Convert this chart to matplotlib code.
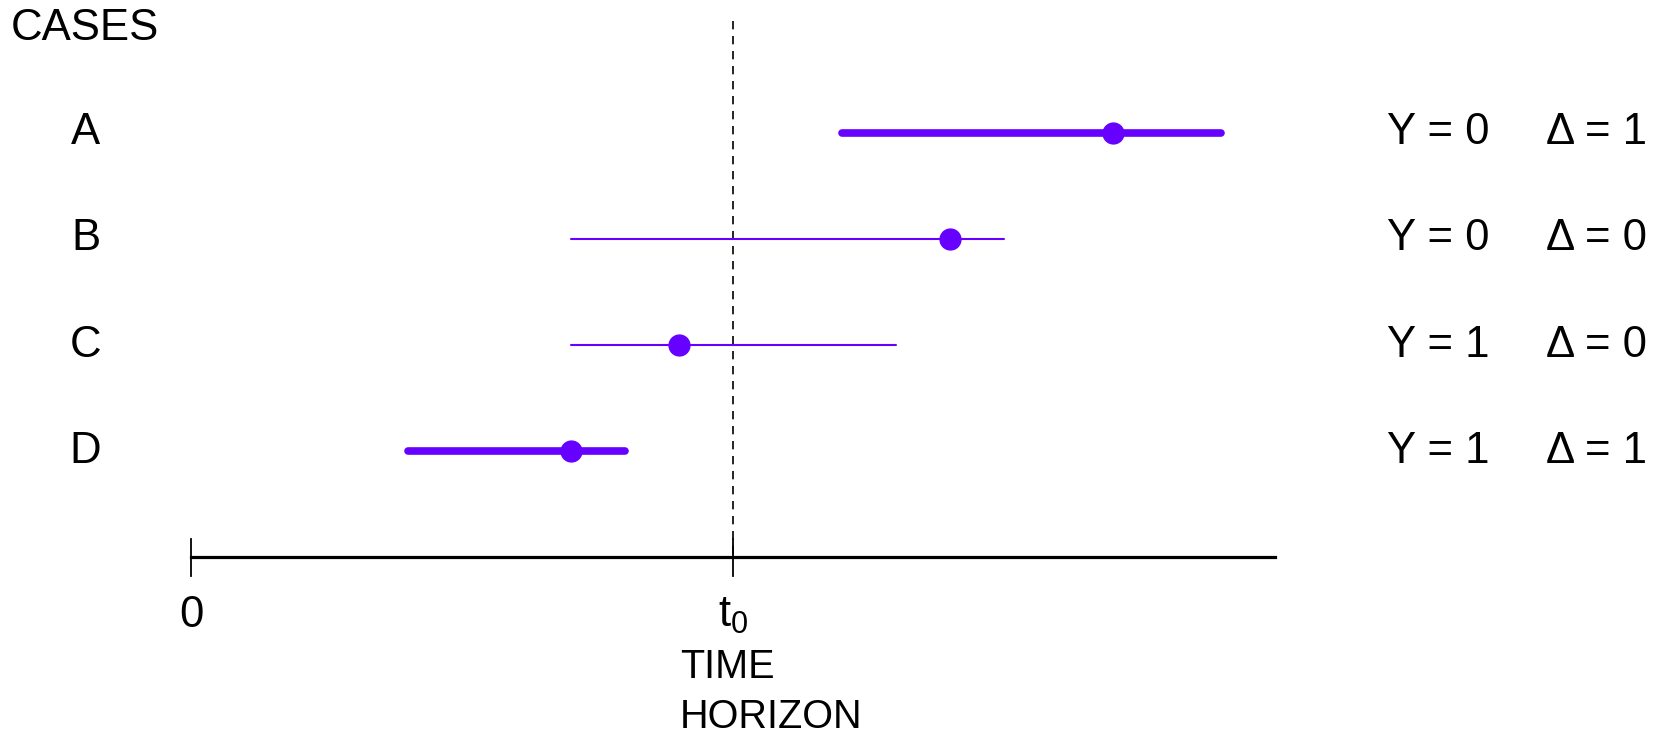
import matplotlib
matplotlib.use("Agg")
import matplotlib.pyplot as plt

plt.rcParams['font.family'] = ['Liberation Sans', 'DejaVu Sans']
plt.rcParams['mathtext.fontset'] = 'custom'
plt.rcParams['mathtext.rm'] = 'Liberation Sans'
plt.rcParams['mathtext.it'] = 'Liberation Sans'

# cases, follow-up start/end, event time, outcome Y, indicator delta
cases = ["A", "B", "C", "D"]
starts = [12, 7, 7, 4]
ends = [19, 15, 13, 8]
events = [17, 14, 9, 7]
ys = [0, 0, 1, 1]
deltas = [1, 0, 0, 1]
t0 = 10
t_max = 20

color = "#6600FF"

fig = plt.figure(figsize=(16.66, 7.38), dpi=100)
ax = fig.add_axes([0, 0, 1, 1])
ax.set_xlim(-3.53, 27.21)
ax.set_ylim(-1.7, 5.25)
ax.axis("off")

fs = 31.5
rows = [len(cases) - i for i in range(len(cases))]

for row, case, s, e, ev, y, d in zip(rows, cases, starts, ends, events, ys, deltas):
  lw = 5.5 if d == 1 else 1.5
  ax.plot([s, e], [row, row], color=color, lw=lw, solid_capstyle="round", zorder=2)
  ax.plot(ev, row, "o", color=color, markersize=15, zorder=3)
  ax.text(-1.95, row, case, fontsize=fs, ha="center", va="center")
  ax.text(22.06, row, "Y = {}".format(y), fontsize=fs, ha="left", va="center")
  ax.text(25.0, row, "\u0394 = {}".format(d), fontsize=fs, ha="left", va="center")

# time axis
ax.plot([0, t_max], [0, 0], color="black", lw=2.3, zorder=1)
for x in [0, t0]:
  ax.plot([x, x], [0.17, -0.17], color="black", lw=1.3)
ax.plot([t0, t0], [5.05, 0], color="black", lw=1.2, ls=(0, (5, 4)), zorder=1)

ax.text(0, -0.55, "0", fontsize=fs, ha="center", va="center")
ax.text(t0, -0.55, "t$_0$", fontsize=fs, ha="center", va="center")
ax.text(9.02, -1.03, "TIME", fontsize=fs - 3, ha="left", va="center")
ax.text(9.02, -1.5, "HORIZON", fontsize=fs - 3, ha="left", va="center")
ax.text(-3.33, 4.98, "CASES", fontsize=fs, ha="left", va="center")

fig.savefig("out.png", dpi=100)
